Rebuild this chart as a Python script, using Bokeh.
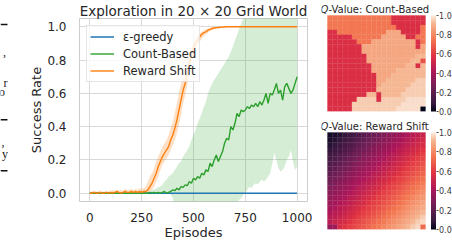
import numpy as np
from bokeh.plotting import figure
from bokeh.layouts import row, column
from bokeh.models import (ColumnDataSource, Legend, LegendItem, ColorBar,
                          LinearColorMapper, FixedTicker, Range1d, NumeralTickFormatter)
from bokeh.core.properties import value
from bokeh.embed import file_html
from bokeh.resources import INLINE

# ---------------- data ----------------
EPISODES = list(range(0, 1001, 10))
EG_EPISODES = [0, 100, 200, 300, 400, 500, 600, 700, 800, 900, 1000]
EG_MEAN = [0.0, 0.0, 0.0, 0.0, 0.0, 0.0, 0.0, 0.0, 0.0, 0.0, 0.0]

CB_MEAN = [
    0.0, 0.0, 0.0, 0.0, 0.0, 0.0, 0.0, 0.0, 0.0, 0.0,
    0.0, 0.0, 0.0, 0.0, 0.0, 0.0, 0.0, 0.0, 0.0, 0.0,
    0.0, 0.0, 0.0, 0.0, 0.0, 0.0, 0.0, 0.0, 0.0, 0.005,
    0.0, 0.005, 0.0, 0.005, 0.0, 0.005, 0.01, 0.0, 0.005, 0.01,
    0.02, 0.015, 0.03, 0.02, 0.04, 0.035, 0.05, 0.045, 0.07, 0.06,
    0.09, 0.08, 0.10, 0.09, 0.12, 0.11, 0.14, 0.13, 0.18, 0.16,
    0.20, 0.23, 0.19, 0.22, 0.25, 0.30, 0.33, 0.32, 0.40, 0.38,
    0.42, 0.48, 0.46, 0.50, 0.49, 0.50, 0.52, 0.51, 0.53, 0.52,
    0.54, 0.52, 0.55, 0.53, 0.56, 0.60, 0.54, 0.60, 0.59, 0.62,
    0.66, 0.60, 0.62, 0.56, 0.64, 0.66, 0.63, 0.60, 0.62, 0.66,
    0.70]
CB_HI = [
    0.005, 0.005, 0.005, 0.005, 0.005, 0.005, 0.005, 0.005, 0.005, 0.005,
    0.005, 0.005, 0.005, 0.005, 0.005, 0.005, 0.005, 0.005, 0.005, 0.005,
    0.01, 0.01, 0.01, 0.01, 0.01, 0.01, 0.01, 0.01, 0.01, 0.01,
    0.02, 0.02, 0.03, 0.035, 0.04, 0.05, 0.07, 0.08, 0.10, 0.11,
    0.12, 0.14, 0.16, 0.18, 0.19, 0.22, 0.24, 0.26, 0.28, 0.32,
    0.35, 0.38, 0.42, 0.45, 0.48, 0.52, 0.55, 0.60, 0.63, 0.66,
    0.68, 0.70, 0.72, 0.74, 0.76, 0.78, 0.80, 0.82, 0.85, 0.88,
    0.92, 0.95, 0.99, 1.02, 1.05, 1.10, 1.10, 1.10, 1.10, 1.10,
    1.10, 1.10, 1.10, 1.10, 1.10, 1.10, 1.10, 1.10, 1.10, 1.10,
    1.10, 1.10, 1.10, 1.10, 1.10, 1.10, 1.10, 1.10, 1.10, 1.10,
    1.10]
CB_LO = [
    -0.005, -0.005, -0.005, -0.005, -0.005, -0.005, -0.005, -0.005, -0.005, -0.005,
    -0.005, -0.005, -0.005, -0.005, -0.005, -0.005, -0.005, -0.005, -0.005, -0.005,
    -0.005, -0.005, -0.005, -0.005, -0.005, -0.005, -0.005, -0.005, -0.005, -0.005,
    -0.005, -0.005, -0.005, -0.005, -0.005, -0.005, -0.005, -0.005, -0.005, -0.005,
    -0.03, -0.07, -0.10, -0.10, -0.10, -0.10, -0.10, -0.10, -0.10, -0.10,
    -0.10, -0.10, -0.10, -0.10, -0.10, -0.10, -0.10, -0.10, -0.10, -0.10,
    -0.10, -0.10, -0.10, -0.10, -0.10, -0.10, -0.10, -0.10, -0.10, -0.10,
    -0.10, -0.06, -0.04, -0.03, -0.01, 0.0, 0.02, 0.04, 0.03, 0.05,
    0.06, 0.05, 0.07, 0.08, 0.07, 0.08, 0.10, 0.12, 0.18, 0.24,
    0.20, 0.15, 0.13, 0.14, 0.16, 0.20, 0.22, 0.26, 0.19, 0.14,
    0.16]

RS_MEAN = [
    0.0, 0.0, 0.005, 0.0, 0.0, 0.005, 0.0, 0.0, 0.005, 0.0,
    0.005, 0.0, 0.005, 0.01, 0.005, 0.0, 0.005, 0.01, 0.005, 0.005,
    0.01, 0.005, 0.01, 0.005, 0.01, 0.005, 0.01, 0.01, 0.02, 0.04,
    0.06, 0.09, 0.12, 0.16, 0.19, 0.22, 0.24, 0.26, 0.28, 0.32,
    0.35, 0.39, 0.44, 0.50, 0.56, 0.62, 0.66, 0.72, 0.78, 0.83,
    0.87, 0.90, 0.92, 0.94, 0.955, 0.965, 0.97, 0.98, 0.985, 0.99,
    0.993, 0.995, 0.996, 0.997, 0.998, 0.999, 1.0, 1.0, 1.0, 1.0,
    1.0, 1.0, 1.0, 1.0, 1.0, 1.0, 1.0, 1.0, 1.0, 1.0,
    1.0, 1.0, 1.0, 1.0, 1.0, 1.0, 1.0, 1.0, 1.0, 1.0,
    1.0, 1.0, 1.0, 1.0, 1.0, 1.0, 1.0, 1.0, 1.0, 1.0,
    1.0]
RS_HI = [
    0.01, 0.01, 0.015, 0.01, 0.01, 0.015, 0.01, 0.01, 0.015, 0.01,
    0.015, 0.02, 0.015, 0.02, 0.015, 0.02, 0.015, 0.025, 0.02, 0.02,
    0.025, 0.02, 0.025, 0.02, 0.03, 0.025, 0.03, 0.04, 0.07, 0.10,
    0.12, 0.15, 0.19, 0.22, 0.25, 0.28, 0.30, 0.32, 0.35, 0.39,
    0.43, 0.48, 0.54, 0.60, 0.66, 0.71, 0.75, 0.80, 0.84, 0.88,
    0.91, 0.93, 0.95, 0.96, 0.97, 0.98, 0.985, 0.99, 0.995, 1.0,
    1.0, 1.0, 1.0, 1.0, 1.0, 1.0, 1.0, 1.0, 1.0, 1.0,
    1.0, 1.0, 1.0, 1.0, 1.0, 1.0, 1.0, 1.0, 1.0, 1.0,
    1.0, 1.0, 1.0, 1.0, 1.0, 1.0, 1.0, 1.0, 1.0, 1.0,
    1.0, 1.0, 1.0, 1.0, 1.0, 1.0, 1.0, 1.0, 1.0, 1.0,
    1.0]
RS_LO = [
    0.0, 0.0, 0.0, 0.0, 0.0, 0.0, 0.0, 0.0, 0.0, 0.0,
    0.0, 0.0, 0.0, 0.0, 0.0, 0.0, 0.0, 0.0, 0.0, 0.0,
    0.0, 0.0, 0.0, 0.0, 0.0, 0.0, 0.0, 0.0, 0.0, 0.01,
    0.02, 0.04, 0.07, 0.10, 0.14, 0.17, 0.19, 0.21, 0.23, 0.26,
    0.29, 0.32, 0.36, 0.41, 0.47, 0.54, 0.59, 0.65, 0.72, 0.78,
    0.83, 0.87, 0.89, 0.91, 0.93, 0.945, 0.955, 0.965, 0.975, 0.98,
    0.985, 0.99, 0.99, 0.995, 0.995, 0.997, 0.998, 1.0, 1.0, 1.0,
    1.0, 1.0, 1.0, 1.0, 1.0, 1.0, 1.0, 1.0, 1.0, 1.0,
    1.0, 1.0, 1.0, 1.0, 1.0, 1.0, 1.0, 1.0, 1.0, 1.0,
    1.0, 1.0, 1.0, 1.0, 1.0, 1.0, 1.0, 1.0, 1.0, 1.0,
    1.0]

X_TICKS = [0, 250, 500, 750, 1000]
Y_TICKS = [0.0, 0.2, 0.4, 0.6, 0.8, 1.0]
CB_TICKS = [0.0, 0.2, 0.4, 0.6, 0.8, 1.0]
SERIES_NAMES = ["ε-greedy", "Count-Based", "Reward Shift"]

# Q-value maps (percent), read cell by cell; Count-Based as run-length rows
CB_LEVELS = {"r": 56, "e": 66, "o": 75, "p": 88, "q": 92, "s": 95, "t": 98, "k": 0}
CB_RUNS = [
    [("o", 13), ("r", 7)],
    [("o", 13), ("r", 7)],
    [("o", 14), ("r", 5), ("o", 1)],
    [("r", 2), ("o", 10), ("p", 3), ("r", 4), ("o", 1)],
    [("r", 5), ("o", 6), ("p", 5), ("r", 2), ("o", 2)],
    [("r", 6), ("o", 3), ("p", 9), ("r", 1), ("o", 1)],
    [("r", 7), ("p", 11), ("r", 1), ("p", 1)],
    [("r", 7), ("p", 13)],
    [("r", 8), ("p", 10), ("q", 2)],
    [("r", 8), ("p", 9), ("q", 2), ("e", 1)],
    [("r", 9), ("p", 7), ("q", 2), ("r", 1), ("q", 1)],
    [("r", 9), ("p", 5), ("q", 6)],
    [("r", 10), ("p", 3), ("q", 7)],
    [("r", 10), ("p", 2), ("q", 6), ("s", 2)],
    [("r", 10), ("p", 1), ("q", 6), ("s", 3)],
    [("r", 10), ("q", 6), ("s", 4)],
    [("r", 8), ("q", 2), ("r", 1), ("q", 4), ("s", 5)],
    [("r", 6), ("s", 4), ("r", 1), ("s", 5), ("t", 4)],
    [("r", 5), ("s", 10), ("t", 5)],
    [("r", 5), ("s", 9), ("t", 5), ("k", 1)],
]
RS_Q = [
    [3, 4, 6, 8, 11, 13, 16, 18, 21, 24, 26, 29, 32, 34, 37, 39, 42, 45, 47, 50],
    [4, 6, 8, 11, 13, 16, 18, 21, 24, 26, 29, 32, 34, 37, 39, 42, 45, 47, 50, 53],
    [6, 8, 11, 13, 16, 18, 21, 24, 26, 29, 32, 34, 37, 39, 42, 45, 47, 50, 53, 55],
    [8, 11, 13, 16, 18, 21, 24, 26, 29, 32, 34, 37, 39, 42, 45, 47, 50, 53, 55, 58],
    [11, 13, 16, 18, 21, 24, 26, 29, 32, 34, 37, 39, 42, 45, 47, 50, 53, 55, 58, 61],
    [13, 16, 18, 21, 24, 26, 29, 32, 34, 37, 39, 42, 45, 47, 50, 53, 55, 58, 61, 63],
    [16, 18, 21, 24, 26, 29, 32, 34, 37, 39, 42, 45, 47, 50, 53, 55, 58, 61, 63, 66],
    [18, 21, 24, 26, 29, 32, 34, 37, 39, 42, 45, 47, 50, 53, 55, 58, 61, 63, 66, 68],
    [21, 24, 26, 29, 32, 34, 37, 39, 42, 45, 47, 50, 53, 55, 58, 61, 63, 66, 68, 71],
    [24, 26, 29, 32, 34, 37, 39, 42, 45, 47, 50, 53, 55, 58, 61, 63, 66, 68, 71, 74],
    [26, 29, 32, 34, 37, 39, 42, 45, 47, 50, 53, 55, 58, 61, 63, 66, 68, 71, 74, 76],
    [29, 32, 34, 37, 39, 42, 45, 47, 50, 53, 55, 58, 61, 63, 66, 68, 71, 74, 76, 79],
    [32, 34, 37, 39, 42, 45, 47, 50, 53, 55, 58, 61, 63, 66, 68, 71, 74, 76, 79, 82],
    [34, 37, 39, 42, 45, 47, 50, 53, 55, 58, 61, 63, 66, 68, 71, 74, 76, 79, 82, 84],
    [37, 39, 42, 45, 47, 50, 53, 55, 58, 61, 63, 66, 68, 71, 74, 76, 79, 82, 84, 87],
    [39, 42, 45, 47, 50, 53, 55, 58, 61, 63, 66, 68, 71, 74, 76, 79, 82, 84, 87, 89],
    [42, 45, 47, 50, 53, 55, 58, 61, 63, 66, 68, 71, 74, 76, 79, 82, 84, 87, 89, 92],
    [45, 47, 50, 53, 55, 58, 61, 63, 66, 68, 71, 74, 76, 79, 82, 84, 87, 89, 92, 95],
    [45, 50, 53, 55, 58, 61, 63, 66, 68, 71, 74, 76, 79, 82, 84, 87, 89, 92, 95, 97],
    [35, 38, 55, 58, 61, 63, 66, 68, 71, 74, 76, 79, 82, 84, 87, 89, 92, 95, 97, 72],
]

# fragments of the neighbouring page text (pixel coordinates of the strip)
FRAG_RULE_Y = [8, 135, 203]
FRAG_TEXT = [",", "r", "o", ",", "y"]
FRAG_TEXT_X = [5.5, 7, 4.5, 4, 7.5]
FRAG_TEXT_Y = [44, 86, 98, 165, 181]

# ---------------- styles ----------------
FONT = "DejaVu Sans"
TXT = "#262626"
C_BLUE, C_GREEN, C_ORANGE = "#1f77b4", "#2ca02c", "#ff7f0e"

ROCKET_ANCHORS = [(0.0, "#03051A"), (0.083, "#35193E"), (0.25, "#701F57"),
                  (0.417, "#AD1759"), (0.583, "#E13342"), (0.75, "#F37651"),
                  (0.917, "#F6B48F"), (1.0, "#FAEBDD")]


def build_palette(anchors, n=256):
    pos = np.array([a[0] for a in anchors])
    rgb = np.array([[int(h[i:i + 2], 16) for i in (1, 3, 5)] for _, h in anchors], float)
    out = []
    for tt in np.linspace(0, 1, n):
        col = [np.interp(tt, pos, rgb[:, k]) for k in range(3)]
        out.append("#%02x%02x%02x" % tuple(int(round(c)) for c in col))
    return out


ROCKET = build_palette(ROCKET_ANCHORS)

# ---------------- left strip (page fragments) ----------------
left = figure(width=8, height=244, x_range=Range1d(0, 8), y_range=Range1d(244, 0),
              x_axis_location=None, y_axis_location=None, output_backend="svg",
              toolbar_location=None, min_border=0)
left.grid.visible = False
left.outline_line_color = None
left.segment(x0=[0] * 3, x1=[7] * 3, y0=FRAG_RULE_Y, y1=FRAG_RULE_Y, line_color="#111111", line_width=1.3)
left.text(x=FRAG_TEXT_X, y=FRAG_TEXT_Y, text=FRAG_TEXT, text_align="right", text_baseline="middle",
          text_font=value("Liberation Serif"), text_font_size="12px", text_color="#222222")

# ---------------- main line chart ----------------
main = figure(width=309, height=244, x_range=Range1d(-50, 1050), y_range=Range1d(-0.05, 1.05),
              output_backend="svg", toolbar_location=None,
              min_border_left=71, min_border_right=10, min_border_top=15, min_border_bottom=43)
main.title.text = "Exploration in 20 × 20 Grid World"
main.title.align = "center"
main.title.text_font = FONT
main.title.text_font_size = "13.5px"
main.title.text_font_style = "normal"
main.title.text_color = TXT
main.title.standoff = 0

for ax in (main.xaxis[0], main.yaxis[0]):
    ax.axis_line_color = None
    ax.major_tick_line_color = None
    ax.minor_tick_line_color = None
    ax.major_label_text_font = FONT
    ax.major_label_text_font_size = "12px"
    ax.major_label_text_color = TXT
    ax.axis_label_text_font = FONT
    ax.axis_label_text_font_size = "13px"
    ax.axis_label_text_font_style = "normal"
    ax.axis_label_text_color = TXT
    ax.axis_label_standoff = 0
main.xaxis.ticker = FixedTicker(ticks=X_TICKS)
main.yaxis.ticker = FixedTicker(ticks=Y_TICKS)
main.yaxis.formatter = NumeralTickFormatter(format="0.0")
main.xaxis.major_label_standoff = 5
main.yaxis.major_label_standoff = 7
main.xaxis.axis_label = "Episodes"
main.yaxis.axis_label = "Success Rate"
main.xgrid.grid_line_color = "#d9d9d9"
main.ygrid.grid_line_color = "#d9d9d9"
main.outline_line_color = "#cccccc"

main.varea(x=EPISODES, y1=CB_LO, y2=CB_HI, fill_color=C_GREEN, fill_alpha=0.2)
main.varea(x=EPISODES, y1=RS_LO, y2=RS_HI, fill_color=C_ORANGE, fill_alpha=0.25)
r_eg = main.line(EG_EPISODES, EG_MEAN, line_color=C_BLUE, line_width=1.5)
r_cb = main.line(EPISODES, CB_MEAN, line_color=C_GREEN, line_width=1.4)
r_rs = main.line(EPISODES, RS_MEAN, line_color=C_ORANGE, line_width=1.4)

legend = Legend(items=[LegendItem(label=SERIES_NAMES[0], renderers=[r_eg]),
                       LegendItem(label=SERIES_NAMES[1], renderers=[r_cb]),
                       LegendItem(label=SERIES_NAMES[2], renderers=[r_rs])],
                location="top_left", margin=7, padding=3, spacing=2,
                label_height=15, glyph_height=15, glyph_width=24, label_standoff=9,
                label_text_font=FONT, label_text_font_size="11.5px", label_text_color=TXT,
                border_line_color="#cccccc", background_fill_alpha=0.8)
main.add_layout(legend)


# ---------------- heatmaps ----------------
HM_FIG_W = 135
HM_PAD_L, HM_PAD_R = 6, 5          # extra frame room for the titles (px)
HM_MAP_W = 98                       # heatmap width (px)


def heatmap(matrix, title_rest, height, top, bottom):
    rows, cols, vals = [], [], []
    for r, rv in enumerate(matrix):
        for c, v in enumerate(rv):
            rows.append(r)
            cols.append(c)
            vals.append(v / 100.0)
    src = ColumnDataSource(dict(r=rows, c=cols, v=vals))
    map_h = height - top - bottom
    cell_h = map_h / 20.0
    cell_w = HM_MAP_W / 20.0
    border_l = 10 - HM_PAD_L
    border_r = HM_FIG_W - border_l - (HM_PAD_L + HM_MAP_W + HM_PAD_R)
    p = figure(width=HM_FIG_W, height=height,
               x_range=Range1d(-0.5 - HM_PAD_L / cell_w, 19.5 + HM_PAD_R / cell_w),
               y_range=Range1d(19.5, -0.5 - top / cell_h),
               x_axis_location=None, y_axis_location=None, output_backend="svg",
               toolbar_location=None, min_border_left=border_l, min_border_right=border_r,
               min_border_top=0, min_border_bottom=bottom)
    p.grid.visible = False
    p.outline_line_color = None
    mapper = LinearColorMapper(palette=ROCKET, low=0, high=1)
    p.rect(x="c", y="r", width=1, height=1, source=src,
           fill_color={"field": "v", "transform": mapper},
           line_color={"field": "v", "transform": mapper}, line_width=0.3)
    cb = ColorBar(color_mapper=mapper, width=5, height=map_h,
                  location=(HM_PAD_L + HM_MAP_W + 5.5, 0),
                  margin=0, padding=0, ticker=FixedTicker(ticks=CB_TICKS),
                  formatter=NumeralTickFormatter(format="0.0"),
                  major_label_text_font=FONT, major_label_text_font_size="8px",
                  major_label_text_color="#3a3a3a", major_tick_line_color="#444444",
                  major_tick_out=2, major_tick_in=0, minor_tick_line_color=None,
                  label_standoff=1, bar_line_color=None, border_line_color=None,
                  background_fill_alpha=0)
    p.add_layout(cb)
    ty = -0.5 - 6.0 / cell_h
    p.text(x=[-0.3], y=[ty], text=["Q"], text_align="right", text_baseline="middle",
           text_font=value(FONT), text_font_style="italic", text_font_size="10px",
           text_color=TXT)
    p.text(x=[-0.3], y=[ty], text=[title_rest], text_align="left", text_baseline="middle",
           text_font=value(FONT), text_font_size="10px", text_color=TXT)
    return p


CB_Q = []
for runs in CB_RUNS:
    rv = []
    for code, n in runs:
        rv.extend([CB_LEVELS[code]] * n)
    CB_Q.append(rv)

hm1 = heatmap(CB_Q, "-Value: Count-Based", 121, 15, 10)
hm2 = heatmap(RS_Q, "-Value: Reward Shift", 123, 11, 15)

layout = row(left, main, column(hm1, hm2, spacing=0), spacing=0)
open("out.html", "w").write(file_html(layout, INLINE))
